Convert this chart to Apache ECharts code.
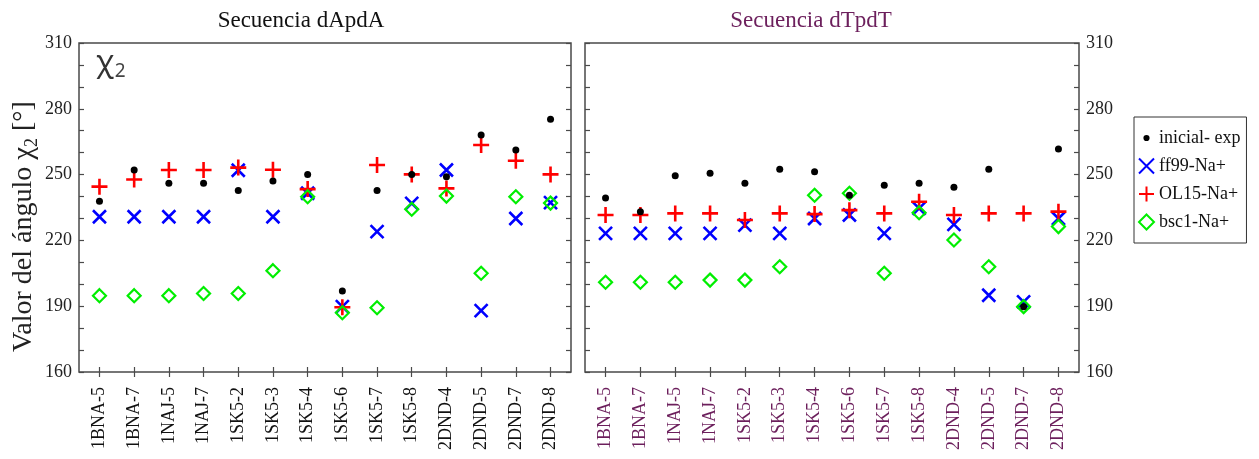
<!DOCTYPE html>
<html>
<head>
<meta charset="utf-8">
<title>Ángulo χ2</title>
<script src="https://cdn.jsdelivr.net/npm/echarts@6/dist/echarts.min.js"></script>
<style>
  html, body { margin: 0; padding: 0; background: #fff; }
  #chart { width: 1259px; height: 459px; }
</style>
</head>
<body>
<div id="chart"></div>
<script>
// Structures (shared by both panels)
const categories = ['1BNA-5', '1BNA-7', '1NAJ-5', '1NAJ-7', '1SK5-2', '1SK5-3', '1SK5-4',
  '1SK5-6', '1SK5-7', '1SK5-8', '2DND-4', '2DND-5', '2DND-7', '2DND-8'];

// Secuencia dApdA — χ2 angle (degrees)
const apaInicial = [237.8, 252.1, 246.0, 246.0, 242.7, 247.1, 250.1, 196.9, 242.7, 250.1, 249.0, 268.1, 261.2, 275.2];
const apaFf99    = [230.8, 230.8, 230.8, 230.8, 252.0, 230.8, 241.5, 189.8, 224.0, 236.9, 252.1, 188.0, 230.0, 237.2];
const apaOL15    = [244.5, 247.8, 252.1, 252.1, 253.2, 252.2, 243.4, 189.5, 254.4, 250.1, 243.7, 263.5, 256.3, 250.1];
const apaBsc1    = [194.8, 194.8, 194.8, 195.8, 195.8, 206.2, 239.9, 187.0, 189.3, 234.2, 240.2, 205.0, 239.9, 237.0];

// Secuencia dTpdT — χ2 angle (degrees)
const tptInicial = [239.3, 233.1, 249.5, 250.6, 246.0, 252.4, 251.3, 240.6, 245.1, 246.0, 244.2, 252.4, 189.8, 261.7];
const tptFf99    = [223.2, 223.2, 223.2, 223.2, 227.0, 223.2, 230.0, 231.6, 223.2, 234.6, 227.3, 195.0, 192.0, 230.0];
const tptOL15    = [231.6, 231.6, 232.3, 232.3, 229.3, 232.3, 232.0, 233.8, 232.3, 237.6, 231.6, 232.3, 232.3, 233.1];
const tptBsc1    = [200.9, 200.9, 200.9, 201.9, 201.9, 208.0, 240.6, 241.5, 205.0, 232.6, 220.2, 208.0, 189.8, 226.3];

const seriesNames = ['inicial- exp', 'ff99-Na+', 'OL15-Na+', 'bsc1-Na+'];
const yTicks = [160, 190, 220, 250, 280, 310];

const SERIF = 'Liberation Serif';
const FRAME = '#4a4a4a';
const PURPLE = '#6c1f5c';
const idx = categories.map((_, i) => i);

// marker shapes: open strokes for × and +, hollow diamond, small dot in a padded box
const SYM_DOT = 'path://M0,0M20,20M6.5,10a3.5,3.5 0 1,0 7,0a3.5,3.5 0 1,0 -7,0Z';
const SYM_DOT_LEGEND = 'path://M0,0M17,17M5,8.5a3.5,3.5 0 1,0 7,0a3.5,3.5 0 1,0 -7,0Z';
const SYM_X = 'path://M0,0L10,10M10,0L0,10';
const SYM_PLUS = 'path://M5,0L5,10M0,5L10,5';
const SYM_DIAMOND = 'path://M5,0L10,5L5,10L0,5Z';

function pts(values) { return values.map((v, i) => [i, v]); }

function xAxesFor(gridIndex, labelColor) {
  const base = {
    gridIndex, type: 'value', min: -0.59, max: 13.59,
    axisLine: { show: false, onZero: false }, splitLine: { show: false }
  };
  return [
    Object.assign({}, base, {
      position: 'bottom',
      axisTick: { inside: true, length: 5, customValues: idx, lineStyle: { color: FRAME, width: 1.2 } },
      axisLabel: {
        customValues: idx, rotate: 90, margin: 15,
        fontFamily: SERIF, fontSize: 18, color: labelColor,
        formatter: v => categories[Math.round(v)]
      }
    }),
    Object.assign({}, base, {
      position: 'bottom',
      axisTick: { inside: false, length: 5, customValues: idx, lineStyle: { color: FRAME, width: 1.2 } },
      axisLabel: { show: false }
    })
  ];
}

function yAxisFor(gridIndex, position, showLabels, extra) {
  return Object.assign({
    gridIndex, type: 'value', position, min: 160, max: 310, interval: 10,
    axisLine: { show: false, onZero: false }, splitLine: { show: false },
    axisTick: { inside: true, length: 5, lineStyle: { color: FRAME, width: 1.2 } },
    axisLabel: {
      show: showLabels, margin: 7, fontFamily: SERIF, fontSize: 18, color: '#222',
      formatter: v => (yTicks.indexOf(v) >= 0 ? String(v) : '')
    }
  }, extra || {});
}

function makeSeries(xAxisIndex, yAxisIndex, inicial, ff99, ol15, bsc1) {
  const common = { type: 'scatter', xAxisIndex, yAxisIndex, silent: true, emphasis: { disabled: true } };
  return [
    Object.assign({}, common, {
      name: seriesNames[1], data: pts(ff99), symbol: SYM_X, symbolSize: 13,
      itemStyle: { color: '#0000ff', borderColor: '#0000ff', borderWidth: 2.6, opacity: 1 }
    }),
    Object.assign({}, common, {
      name: seriesNames[2], data: pts(ol15), symbol: SYM_PLUS, symbolSize: 16,
      itemStyle: { color: '#ff0000', borderColor: '#ff0000', borderWidth: 2.6, opacity: 1 }
    }),
    Object.assign({}, common, {
      name: seriesNames[3], data: pts(bsc1), symbol: SYM_DIAMOND, symbolSize: 13,
      itemStyle: { color: 'rgba(0,0,0,0)', borderColor: '#00ee00', borderWidth: 2.2, opacity: 1 }
    }),
    Object.assign({}, common, {
      name: seriesNames[0], data: pts(inicial), symbol: SYM_DOT, symbolSize: 20,
      itemStyle: { color: '#000', opacity: 1 }
    })
  ];
}

const chart = echarts.init(document.getElementById('chart'), null, { renderer: 'canvas' });

chart.setOption({
  animation: false,
  backgroundColor: '#fff',
  title: [
    { text: 'Secuencia dApdA', left: 301, top: 9, padding: 0, textAlign: 'center',
      textStyle: { fontFamily: SERIF, fontSize: 23, fontWeight: 'normal', color: '#111' } },
    { text: 'Secuencia dTpdT', left: 811, top: 9, padding: 0, textAlign: 'center',
      textStyle: { fontFamily: SERIF, fontSize: 23, fontWeight: 'normal', color: PURPLE } }
  ],
  grid: [
    { left: 79, top: 43, width: 492, height: 329, show: true, borderColor: FRAME, borderWidth: 1.5, backgroundColor: 'transparent' },
    { left: 585, top: 43, width: 494, height: 329, show: true, borderColor: FRAME, borderWidth: 1.5, backgroundColor: 'transparent' }
  ],
  xAxis: [].concat(xAxesFor(0, '#111'), xAxesFor(1, PURPLE)),
  yAxis: [
    yAxisFor(0, 'left', true, {
      name: 'Valor del ángulo {g|χ}{s|2} [°]',
      nameLocation: 'middle', nameRotate: 90, nameGap: 36,
      nameTextStyle: {
        fontFamily: SERIF, fontSize: 28, color: '#222', padding: [0, 38, 0, 0],
        rich: {
          g: { fontFamily: SERIF, fontSize: 29, color: '#222' },
          s: { fontFamily: SERIF, fontSize: 18, color: '#222', padding: [16, 0, 0, 0] }
        }
      }
    }),
    yAxisFor(0, 'right', false),
    yAxisFor(1, 'left', false),
    yAxisFor(1, 'right', true)
  ],
  legend: {
    orient: 'vertical', left: 1134, top: 117,
    padding: [12, 6, 12, 4], itemGap: 10, itemWidth: 15, itemHeight: 15,
    borderColor: '#333', borderWidth: 1, selectedMode: false,
    textStyle: { fontFamily: SERIF, fontSize: 18, color: '#111' },
    data: [
      { name: seriesNames[0], icon: SYM_DOT_LEGEND },
      { name: seriesNames[1] },
      { name: seriesNames[2] },
      { name: seriesNames[3] }
    ]
  },
  graphic: [{
    type: 'text', left: 96, top: 48, silent: true,
    style: {
      text: '{a|χ}{b|2}',
      rich: {
        a: { fontFamily: 'Noto Sans', fontSize: 30, fill: '#333' },
        b: { fontFamily: 'Noto Sans', fontSize: 19, fill: '#444', padding: [18, 0, 0, 1] }
      }
    }
  }],
  series: [].concat(
    makeSeries(0, 0, apaInicial, apaFf99, apaOL15, apaBsc1),
    makeSeries(2, 2, tptInicial, tptFf99, tptOL15, tptBsc1)
  )
});
</script>
</body>
</html>
